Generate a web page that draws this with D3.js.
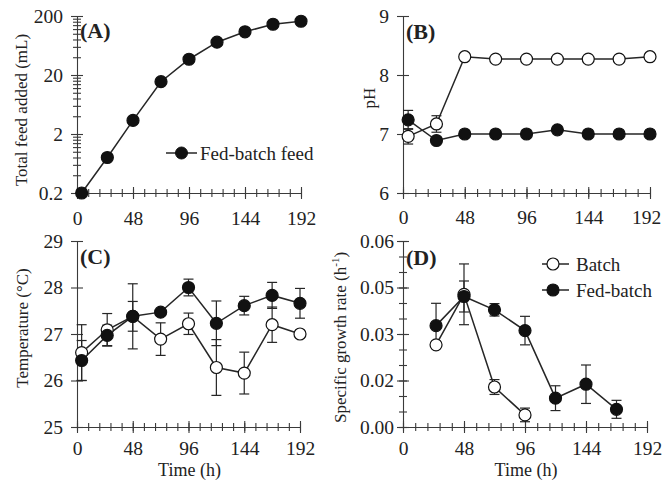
<!DOCTYPE html>
<html><head><meta charset="utf-8">
<script src="https://cdn.jsdelivr.net/npm/d3@7"></script>
<style>
html,body{margin:0;padding:0;background:#fff;}
svg{display:block;}
text{font-family:"Liberation Serif","Times New Roman",serif;fill:#222;}
</style></head>
<body>
<svg id="chart" width="662" height="482"></svg>
<script>
// ---------- DATA ----------
const times = [4, 26, 48, 72, 96, 120, 144, 168, 192];
const xTickValues = [0, 48, 96, 144, 192];
const xTickLabels = ["0", "48", "96", "144", "192"];

// (A) total feed added (mL), fed-batch
const feedFed = [0.2, 0.8, 3.4, 15.4, 37, 72, 108, 145, 163];
const feedTickValues = [0.2, 2, 20, 200];
const feedTickLabels = ["0.2", "2", "20", "200"];

// (B) pH
const pHBatch = [6.96, 7.17, 8.31, 8.27, 8.27, 8.27, 8.27, 8.27, 8.31];
const pHBatchErr = [0.13, 0.14, 0, 0, 0, 0, 0, 0, 0];
const pHFed = [7.24, 6.89, 7.0, 7.0, 7.0, 7.07, 7.0, 7.0, 7.0];
const pHFedErr = [0.16, 0.03, 0, 0, 0, 0.03, 0, 0, 0];
const pHTickValues = [6, 7, 8, 9];
const pHTickLabels = ["6", "7", "8", "9"];

// (C) temperature (°C)
const tempBatch = [26.6, 27.09, 27.38, 26.89, 27.22, 26.28, 26.16, 27.2, 27.0];
const tempBatchErr = [0.6, 0.35, 0.7, 0.35, 0.23, 0.6, 0.45, 0.38, 0.03];
const tempFed = [26.43, 26.97, 27.38, 27.47, 28.0, 27.23, 27.61, 27.83, 27.66];
const tempFedErr = [0.43, 0.22, 0.32, 0.05, 0.18, 0.48, 0.2, 0.28, 0.32];
const tempTickValues = [25, 26, 27, 28, 29];
const tempTickLabels = ["25", "26", "27", "28", "29"];

// (D) specific growth rate (1/h)
const muTimesBatch = [26, 48, 72, 96];
const muBatch = [0.0265, 0.0428, 0.0129, 0.0039];
const muBatchErr = [0.001, 0.0098, 0.0024, 0.0022];
const muTimesFed = [26, 48, 72, 96, 120, 144, 168];
const muFed = [0.0327, 0.0421, 0.0378, 0.0311, 0.0093, 0.0138, 0.0057];
const muFedErr = [0.0072, 0.005, 0.002, 0.0046, 0.004, 0.0062, 0.0029];
const muTickValues = [0, 0.015, 0.03, 0.045, 0.06];
const muTickLabels = ["0.00", "0.02", "0.03", "0.05", "0.06"];

// ---------- DRAWING ----------
const svg = d3.select("#chart");
const INK = "#262626";
const AX = "#3a3a3a";
const TICKFS = 19.5; // tick labels
const TITLEFS = 17;  // axis titles
const LEGFS = 19;    // legend text

const xMinor = d3.range(0, 192.01, 9.6);

function styleAxis(g){
  g.selectAll("path.domain").attr("stroke", AX).attr("stroke-width", 1.1);
  g.selectAll(".tick line").attr("stroke", AX).attr("stroke-width", 1.1);
  g.selectAll(".tick text").attr("font-family", '"Liberation Serif","Times New Roman",serif')
    .attr("font-size", TICKFS).attr("fill", "#222");
}

function panel(cfg){
  const g = svg.append("g");
  const x = d3.scaleLinear().domain([0, 192]).range([cfg.x0, cfg.x1]);
  const y = cfg.y;
  // x axis minor (cross)
  const xa = g.append("g").attr("transform", `translate(0,${cfg.y0})`);
  xa.append("g").call(d3.axisBottom(x).tickValues(xMinor).tickSize(4).tickSizeOuter(0).tickFormat("")).call(styleAxis);
  xa.append("g").call(d3.axisTop(x).tickValues(xMinor).tickSize(4).tickSizeOuter(0).tickFormat("")).call(styleAxis)
    .select("path.domain").remove();
  xa.append("g").call(d3.axisTop(x).tickValues(xTickValues).tickSize(6).tickSizeOuter(0).tickFormat("")).call(styleAxis)
    .select("path.domain").remove();
  const xl = xa.append("g").call(d3.axisBottom(x).tickValues(xTickValues).tickSize(6).tickSizeOuter(0)
      .tickPadding(cfg.xPad).tickFormat((d,i)=>xTickLabels[i])).call(styleAxis);
  xl.select("path.domain").remove();
  if (cfg.lastDx) xl.selectAll(".tick text").filter(d=>d===192).attr("dx", cfg.lastDx);

  // y axis
  const ya = g.append("g").attr("transform", `translate(${cfg.x0},0)`);
  if (cfg.yMinor){
    ya.append("g").call(d3.axisLeft(y).tickValues(cfg.yMinor).tickSize(4).tickSizeOuter(0).tickFormat("")).call(styleAxis)
      .select("path.domain").remove();
    ya.append("g").call(d3.axisRight(y).tickValues(cfg.yMinor).tickSize(4).tickSizeOuter(0).tickFormat("")).call(styleAxis)
      .select("path.domain").remove();
  }
  ya.append("g").call(d3.axisRight(y).tickValues(cfg.yTicks).tickSize(6).tickSizeOuter(0).tickFormat("")).call(styleAxis)
    .select("path.domain").remove();
  ya.append("g").call(d3.axisLeft(y).tickValues(cfg.yTicks).tickSize(6).tickSizeOuter(0)
      .tickPadding(cfg.yPad).tickFormat((d,i)=>cfg.yLabels[i])).call(styleAxis);

  // y title
  const t = g.append("text")
    .attr("transform", `translate(${cfg.titleX},${cfg.titleY}) rotate(-90)`)
    .attr("text-anchor", cfg.titleAnchor || "middle")
    .attr("font-size", TITLEFS);
  if (cfg.titleSup){
    t.append("tspan").text(cfg.title);
    t.append("tspan").attr("font-size", 11).attr("dy", -7).text(cfg.titleSup);
    t.append("tspan").attr("dy", 7).text(")");
  } else t.text(cfg.title);

  // panel label
  g.append("text").attr("x", cfg.x0 + 3).attr("y", cfg.labelY)
    .attr("font-size", 22).attr("font-weight", "bold").text(cfg.label);

  if (cfg.xTitle){
    g.append("text").attr("x", (cfg.x0 + cfg.x1)/2 + 1).attr("y", cfg.xTitleY)
      .attr("text-anchor", "middle").attr("font-size", 18).text("Time (h)");
  }

  // series
  cfg.series.forEach(s => {
    const pts = s.t.map((tt,i)=>({t:tt, v:s.v[i], e:s.e ? s.e[i] : 0}));
    const line = d3.line().x(d=>x(d.t)).y(d=>y(d.v));
    g.append("path").datum(pts).attr("d", line).attr("fill","none")
      .attr("stroke", INK).attr("stroke-width", 1.5);
    const eb = g.append("g");
    pts.filter(d=>d.e>0).forEach(d=>{
      const cx = x(d.t), yt = y(d.v + d.e), yb = y(d.v - d.e);
      eb.append("line").attr("x1",cx).attr("x2",cx).attr("y1",yt).attr("y2",yb)
        .attr("stroke", INK).attr("stroke-width",1.2);
      [yt,yb].forEach(yy=>eb.append("line").attr("x1",cx-5).attr("x2",cx+5).attr("y1",yy).attr("y2",yy)
        .attr("stroke", INK).attr("stroke-width",1.2));
    });
    s._pts = pts; s._g = g; s._x = x;
  });
  cfg.series.forEach(s => {
    s._g.append("g").selectAll("circle").data(s._pts).join("circle")
      .attr("cx", d=>s._x(d.t)).attr("cy", d=>y(d.v)).attr("r", 6)
      .attr("fill", s.filled ? "#111" : "#fff").attr("stroke", "#111").attr("stroke-width", 1.2);
  });
  return g;
}

// (A)
const yA = d3.scaleLog().domain([0.2, 200]).range([193, 16]);
const minorA = [];
[0.2, 2, 20].forEach(b => { for (let k = 2; k <= 9; k++) minorA.push(b * k); });
panel({x0:77, x1:301, y0:193, y:yA, yTicks:feedTickValues, yLabels:feedTickLabels, yMinor:minorA,
  xPad:12.5, yPad:8, title:"Total feed added (mL)", titleX:27, titleY:110, label:"(A)", labelY:38,
  series:[{t:times, v:feedFed, filled:true}]});
// legend A
{
  const g = svg.append("g");
  g.append("line").attr("x1",166).attr("x2",197).attr("y1",153).attr("y2",153).attr("stroke",INK).attr("stroke-width",1.5);
  g.append("circle").attr("cx",181.5).attr("cy",153).attr("r",6).attr("fill","#111").attr("stroke","#111");
  g.append("text").attr("x",200).attr("y",159.5).attr("font-size",LEGFS).text("Fed-batch feed");
}

// (B)
const yB = d3.scaleLinear().domain([6, 9]).range([193, 16]);
panel({x0:403, x1:650, y0:193, y:yB, yTicks:pHTickValues, yLabels:pHTickLabels,
  xPad:11.5, yPad:8, title:"pH", titleX:375, titleY:98, label:"(B)", labelY:39, lastDx:-4,
  series:[{t:times, v:pHBatch, e:pHBatchErr, filled:false},{t:times, v:pHFed, e:pHFedErr, filled:true}]});

// (C)
const yC = d3.scaleLinear().domain([25, 29]).range([427, 241]);
panel({x0:77, x1:300, y0:427, y:yC, yTicks:tempTickValues, yLabels:tempTickLabels,
  xPad:8, yPad:8, title:"Temperature (°C)", titleX:28, titleY:328, label:"(C)", labelY:264,
  xTitle:true, xTitleY:476,
  series:[{t:times, v:tempBatch, e:tempBatchErr, filled:false},{t:times, v:tempFed, e:tempFedErr, filled:true}]});

// (D)
const yD = d3.scaleLinear().domain([0, 0.06]).range([427, 241]);
const minorD = d3.range(0, 0.0601, 0.005);
panel({x0:403, x1:647, y0:427, y:yD, yTicks:muTickValues, yLabels:muTickLabels, yMinor:minorD,
  xPad:8, yPad:3, title:"Specific growth rate (h", titleSup:"-1", titleX:346, titleY:423, titleAnchor:"start",
  label:"(D)", labelY:265, xTitle:true, xTitleY:476,
  series:[{t:muTimesBatch, v:muBatch, e:muBatchErr, filled:false},{t:muTimesFed, v:muFed, e:muFedErr, filled:true}]});
// legend D
{
  const g = svg.append("g");
  [["Batch",264,false],["Fed-batch",290,true]].forEach(([name,yy,f])=>{
    g.append("line").attr("x1",542).attr("x2",569).attr("y1",yy).attr("y2",yy).attr("stroke",INK).attr("stroke-width",1.5);
    g.append("circle").attr("cx",553).attr("cy",yy).attr("r",6).attr("fill",f?"#111":"#fff").attr("stroke","#111").attr("stroke-width",1.2);
    g.append("text").attr("x",576).attr("y",yy+6.5).attr("font-size",LEGFS).text(name);
  });
}
</script>
</body></html>
